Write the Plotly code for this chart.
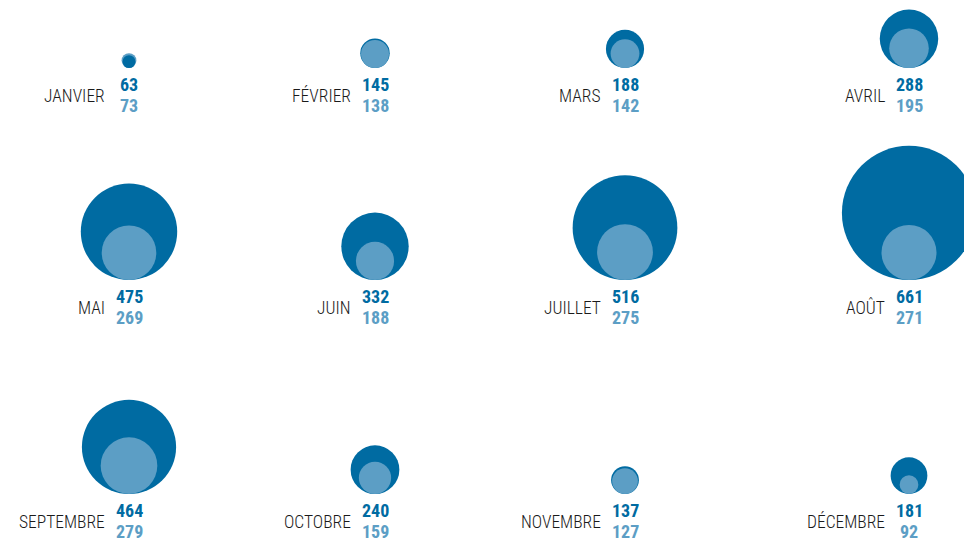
import plotly.graph_objects as go

months = ["JANVIER", "FÉVRIER", "MARS", "AVRIL",
          "MAI", "JUIN", "JUILLET", "AOÛT",
          "SEPTEMBRE", "OCTOBRE", "NOVEMBRE", "DÉCEMBRE"]
dark_vals = [63, 145, 188, 288, 475, 332, 516, 661, 464, 240, 137, 181]
light_vals = [73, 138, 142, 195, 269, 188, 275, 271, 279, 159, 127, 92]

DARK = "#006BA2"
LIGHT = "#5C9EC5"
FONT = "Roboto Condensed"
W, H = 964, 539
col_x = [129, 375, 625, 909]
row_bottom = [68, 280, 494]
K = 0.1015  # radius (px) per unit

fig = go.Figure()

for i, m in enumerate(months):
    cx = col_x[i % 4]
    by = row_bottom[i // 4]
    pair = [(dark_vals[i], DARK), (light_vals[i], LIGHT)]
    pair.sort(key=lambda p: -p[0])
    for v, c in pair:
        r = v * K
        fig.add_trace(go.Scatter(
            x=[cx], y=[by - r], mode="markers",
            marker=dict(size=2 * r, color=c, line=dict(width=0)),
            hoverinfo="skip", showlegend=False))
    fig.add_annotation(x=cx, y=by + 16.5, text=f"<b>{dark_vals[i]}</b>",
                       showarrow=False, xanchor="center", yanchor="middle",
                       font=dict(family=FONT, size=18, color=DARK))
    fig.add_annotation(x=cx, y=by + 37.5, text=f"<b>{light_vals[i]}</b>",
                       showarrow=False, xanchor="center", yanchor="middle",
                       font=dict(family=FONT, size=18, color=LIGHT))
    fig.add_annotation(x=cx - 22, y=by + 27.5, text=m,
                       showarrow=False, xanchor="right", yanchor="middle",
                       font=dict(family=FONT, size=17.5, color="#1a1a1a", weight=300))

fig.update_layout(
    width=W, height=H, margin=dict(l=0, r=0, t=0, b=0),
    paper_bgcolor="white", plot_bgcolor="white",
    xaxis=dict(range=[0, W], visible=False, fixedrange=True),
    yaxis=dict(range=[H, 0], visible=False, fixedrange=True),
)
fig.write_html("out.html", config={"displayModeBar": False},
               post_script="document.body.style.margin='0';")
